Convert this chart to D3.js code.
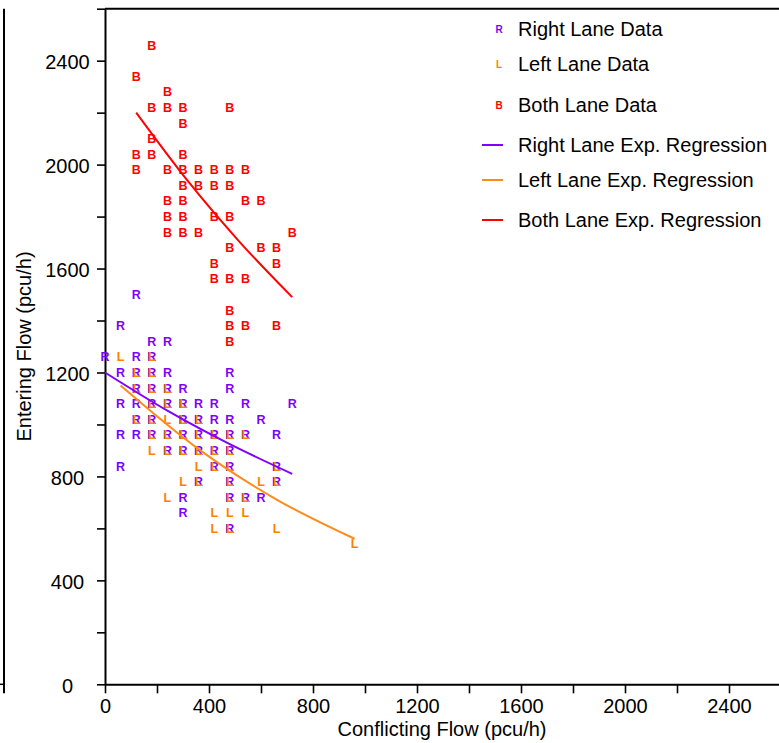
<!DOCTYPE html>
<html>
<head>
<meta charset="utf-8">
<script src="https://cdn.jsdelivr.net/npm/d3@7"></script>
<style>
  body { margin: 0; background: #fff; }
  svg { display: block; }
  text { font-family: "Liberation Sans", Arial, Helvetica, sans-serif; }
</style>
</head>
<body>
<svg id="chart" width="779" height="743"></svg>
<script>
// ---- Data (conflicting flow, entering flow) in pcu/h ----
const rightLane = [
  [120,1500],
  [60,1380],
  [180,1320],[240,1320],
  [0,1260],[120,1260],[180,1260],
  [60,1200],[120,1200],[180,1200],[240,1200],[480,1200],
  [120,1140],[180,1140],[240,1140],[300,1140],[480,1140],
  [60,1080],[120,1080],[180,1080],[240,1080],[300,1080],[360,1080],[420,1080],[540,1080],[720,1080],
  [120,1020],[180,1020],[300,1020],[360,1020],[420,1020],[480,1020],[600,1020],
  [60,960],[120,960],[180,960],[240,960],[300,960],[360,960],[420,960],[480,960],[540,960],[660,960],
  [240,900],[300,900],[360,900],[420,900],[480,900],
  [60,840],[420,840],[480,840],[660,840],
  [360,780],[480,780],[660,780],
  [300,720],[480,720],[540,720],[600,720],
  [300,660],
  [480,600]
];
const leftLane = [
  [60,1260],[180,1260],
  [120,1200],[180,1200],
  [120,1140],[180,1140],[240,1140],
  [180,1080],[240,1080],[300,1080],
  [120,1020],[180,1020],[240,1020],[300,1020],[360,1020],
  [180,960],[240,960],[300,960],[360,960],[420,960],[480,960],[540,960],
  [180,900],[240,900],[300,900],[360,900],[420,900],[480,900],
  [360,840],[420,840],[480,840],[660,840],
  [300,780],[360,780],[480,780],[600,780],[660,780],
  [240,720],[480,720],[540,720],
  [420,660],[480,660],[540,660],
  [420,600],[480,600],[660,600],
  [960,540]
];
const bothLane = [
  [180,2460],
  [120,2340],
  [240,2280],
  [180,2220],[240,2220],[300,2220],[480,2220],
  [300,2160],
  [180,2100],
  [120,2040],[180,2040],[300,2040],
  [120,1980],[240,1980],[300,1980],[360,1980],[420,1980],[480,1980],[540,1980],
  [300,1920],[360,1920],[420,1920],[480,1920],
  [240,1860],[300,1860],[540,1860],[600,1860],
  [240,1800],[300,1800],[420,1800],[480,1800],
  [240,1740],[300,1740],[360,1740],[720,1740],
  [480,1680],[600,1680],[660,1680],
  [420,1620],[660,1620],
  [420,1560],[480,1560],[540,1560],
  [480,1440],
  [480,1380],[540,1380],[660,1380],
  [480,1320]
];
// Regression curves
const rightRegression = [[0,1200],[240,1053],[480,924],[720,810]];
const leftRegression  = [[60,1150],[360,905],[660,711],[960,560]];
const bothRegression  = [[120,2200],[320,1935],[520,1700],[720,1490]];

const xTickValues = [0,200,400,600,800,1000,1200,1400,1600,1800,2000,2200,2400,2600];
const xTickLabels = [0,400,800,1200,1600,2000,2400];
const yTickValues = [0,200,400,600,800,1000,1200,1400,1600,1800,2000,2200,2400,2600];
const yTickLabels = [0,400,800,1200,1600,2000,2400];

const seriesNames = ["Right Lane Data","Left Lane Data","Both Lane Data",
                     "Right Lane Exp. Regression","Left Lane Exp. Regression","Both Lane Exp. Regression"];
const seriesLetters = ["R","L","B"];
const seriesColors = ["#8000ff","#ff8000","#ff0000"];
const lineColors = ["#8000ff","#ff8c1a","#ff0000"];

// ---- Drawing ----
const svg = d3.select("#chart");
const x = d3.scaleLinear().domain([0,2600]).range([105,781]);
const y = d3.scaleLinear().domain([0,2600]).range([684.3,8.7]);

// stray left frame line
svg.append("line").attr("x1",4).attr("x2",4).attr("y1",y(2600)).attr("y2",y(0)+9)
  .attr("stroke","#000").attr("stroke-width",2);
svg.append("line").attr("x1",0).attr("x2",4).attr("y1",y(0)).attr("y2",y(0))
  .attr("stroke","#000").attr("stroke-width",1.5);

// top frame line
svg.append("line").attr("x1",x(0)).attr("x2",x(2600)).attr("y1",y(2600)).attr("y2",y(2600))
  .attr("stroke","#000").attr("stroke-width",2);

const xAxis = svg.append("g").attr("transform",`translate(0,${y(0)})`)
  .call(d3.axisBottom(x).tickValues(xTickValues).tickSize(9).tickSizeOuter(0).tickPadding(6)
    .tickFormat(d => xTickLabels.includes(d) ? String(d) : ""));
const yAxis = svg.append("g").attr("transform",`translate(${x(0)},0)`)
  .call(d3.axisLeft(y).tickValues(yTickValues).tickSize(8).tickSizeOuter(0)
    .tickFormat(d => yTickLabels.includes(d) ? String(d) : ""));

[xAxis, yAxis].forEach(g => {
  g.select(".domain").attr("stroke","#000").attr("stroke-width",2);
  g.selectAll(".tick line").attr("stroke","#000").attr("stroke-width",1.6);
  g.selectAll(".tick text").attr("fill","#000").style("font-size","20px")
    .style("font-family",'"Liberation Sans", Arial, Helvetica, sans-serif');
});
yAxis.selectAll(".tick text").attr("text-anchor","middle").attr("x",67.5 - 105).attr("dy","0.4em");

// axis titles
svg.append("text").attr("x",442).attr("y",736).attr("text-anchor","middle")
  .style("font-size","20px").attr("fill","#000").text("Conflicting Flow (pcu/h)");
svg.append("text").attr("transform",`translate(30.5,${(y(0)+y(2600))/2}) rotate(-90)`)
  .attr("text-anchor","middle").style("font-size","20px").attr("fill","#000")
  .text("Entering Flow (pcu/h)");

// data markers
const markerSets = [bothLane, rightLane, leftLane];
const markerIdx = [2, 0, 1];
markerSets.forEach((data, k) => {
  const i = markerIdx[k];
  svg.append("g").selectAll("text").data(data).join("text")
    .attr("x", d => x(d[0])).attr("y", d => y(d[1]))
    .attr("dy","0.36em").attr("text-anchor","middle")
    .style("font-size","12.5px").style("font-weight","bold")
    .attr("fill", seriesColors[i]).text(seriesLetters[i]);
});

// regression lines
const line = d3.line().x(d => x(d[0])).y(d => y(d[1])).curve(d3.curveMonotoneX);
[rightRegression, leftRegression, bothRegression].forEach((data, i) => {
  svg.append("path").datum(data).attr("d", line).attr("fill","none")
    .attr("stroke", lineColors[i]).attr("stroke-width", 2);
});

// legend
const legendTextY = [36, 71, 112, 152, 187, 227];
const legendMarkY = [29.5, 64.5, 105, 145, 180, 220];
const legend = svg.append("g");
seriesNames.forEach((name, i) => {
  legend.append("text").attr("x",518).attr("y",legendTextY[i])
    .style("font-size","20px").attr("fill","#000").text(name);
  if (i < 3) {
    legend.append("text").attr("x",499).attr("y",legendMarkY[i]).attr("dy","0.36em")
      .attr("text-anchor","middle").style("font-size","10px").style("font-weight","bold")
      .attr("fill",seriesColors[i]).text(seriesLetters[i]);
  } else {
    legend.append("line").attr("x1",482).attr("x2",503)
      .attr("y1",legendMarkY[i]).attr("y2",legendMarkY[i])
      .attr("stroke",lineColors[i-3]).attr("stroke-width",2);
  }
});
</script>
</body>
</html>
